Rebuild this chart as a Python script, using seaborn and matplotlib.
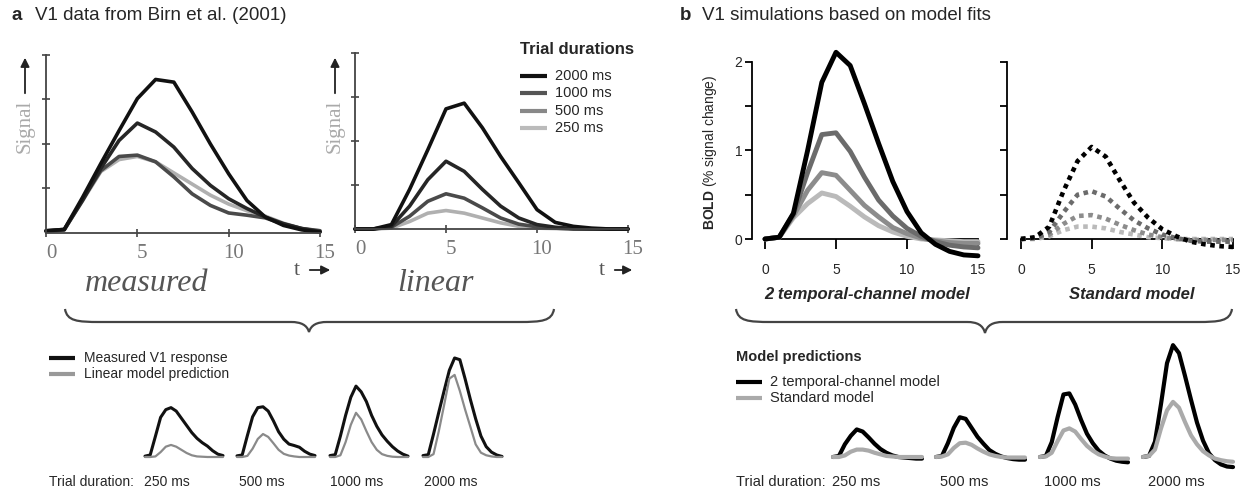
import matplotlib
matplotlib.use("Agg")
import matplotlib.pyplot as plt
import seaborn as sns
import numpy as np
from matplotlib.path import Path
from matplotlib.patches import PathPatch
from matplotlib.transforms import ScaledTranslation

sns.set_style("white")
plt.rcParams['font.family'] = ['Liberation Sans', 'DejaVu Sans']
plt.rcParams['mathtext.fontset'] = 'custom'
plt.rcParams['mathtext.rm'] = 'Liberation Sans'
plt.rcParams['mathtext.bf'] = 'Liberation Sans:bold'

# ---------------- data ----------------
time_s = [0, 1, 2, 3, 4, 5, 6, 7, 8, 9, 10, 11, 12, 13, 14, 15]
durations = ['2000 ms', '1000 ms', '500 ms', '250 ms']
small_labels = ['250 ms', '500 ms', '1000 ms', '2000 ms']

# panel a: measured V1 (Birn et al.)  (arbitrary signal units)
measured_2000 = [0.05, 0.08, 0.80, 1.56, 2.30, 3.02, 3.45, 3.39, 2.72, 2.00, 1.33, 0.73, 0.36, 0.17, 0.07, 0.02]
measured_1000 = [0.05, 0.08, 0.73, 1.45, 2.08, 2.47, 2.27, 1.93, 1.45, 1.07, 0.77, 0.55, 0.36, 0.21, 0.10, 0.03]
measured_500 = [0.04, 0.07, 0.75, 1.40, 1.72, 1.75, 1.60, 1.26, 0.88, 0.62, 0.45, 0.40, 0.34, 0.20, 0.10, 0.05]
measured_250 = [0.03, 0.07, 0.72, 1.38, 1.65, 1.72, 1.60, 1.35, 1.10, 0.85, 0.65, 0.50, 0.38, 0.22, 0.10, 0.05]
# panel a: linear prediction
linear_2000 = [0, 0, 0.10, 0.90, 1.80, 2.73, 2.86, 2.30, 1.65, 1.05, 0.44, 0.15, 0.06, 0.02, 0, 0]
linear_1000 = [0, 0, 0.06, 0.52, 1.12, 1.54, 1.31, 0.90, 0.52, 0.25, 0.10, 0.04, 0.01, 0, 0, 0]
linear_500 = [0, 0, 0.04, 0.29, 0.63, 0.80, 0.70, 0.48, 0.25, 0.11, 0.05, 0.02, 0, 0, 0, 0]
linear_250 = [0, 0, 0.02, 0.17, 0.36, 0.42, 0.36, 0.25, 0.14, 0.06, 0.02, 0.01, 0, 0, 0, 0]

# panel b: simulations (% signal change)
twochan_2000 = [0, 0.02, 0.29, 1.00, 1.77, 2.11, 1.96, 1.53, 1.08, 0.65, 0.31, 0.07, -0.06, -0.14, -0.18, -0.19]
twochan_1000 = [0, 0.02, 0.28, 0.75, 1.18, 1.20, 0.99, 0.70, 0.44, 0.26, 0.12, 0.03, -0.03, -0.07, -0.09, -0.10]
twochan_500 = [0, 0.02, 0.26, 0.55, 0.75, 0.72, 0.55, 0.38, 0.25, 0.13, 0.06, 0.01, -0.02, -0.04, -0.05, -0.05]
twochan_250 = [0, 0.02, 0.24, 0.40, 0.52, 0.48, 0.37, 0.25, 0.15, 0.08, 0.03, 0.00, -0.01, -0.02, -0.03, -0.03]
standard_2000 = [0, 0.02, 0.14, 0.54, 0.88, 1.04, 0.93, 0.66, 0.41, 0.24, 0.11, 0.03, -0.03, -0.06, -0.08, -0.09]
standard_1000 = [0, 0.01, 0.08, 0.30, 0.50, 0.54, 0.48, 0.34, 0.21, 0.12, 0.05, 0.01, -0.02, -0.03, -0.03, -0.03]
standard_500 = [0, 0.01, 0.05, 0.17, 0.26, 0.27, 0.23, 0.16, 0.10, 0.05, 0.02, 0, -0.01, -0.01, -0.01, -0.01]
standard_250 = [0, 0, 0.03, 0.10, 0.14, 0.14, 0.12, 0.08, 0.05, 0.02, 0.01, 0, 0, 0, 0, 0]

measured = [measured_2000, measured_1000, measured_500, measured_250]
linear = [linear_2000, linear_1000, linear_500, linear_250]
twochan = [twochan_2000, twochan_1000, twochan_500, twochan_250]
standard = [standard_2000, standard_1000, standard_500, standard_250]

# ---------------- layout helpers ----------------
W, H = 1244, 490
fig = plt.figure(figsize=(W / 100, H / 100), dpi=100)


def rect_from(xp, xd, yp, yd, xlim, ylim):
    sx = (xp[1] - xp[0]) / (xd[1] - xd[0])
    L = xp[0] + (xlim[0] - xd[0]) * sx
    R = xp[0] + (xlim[1] - xd[0]) * sx
    sy = (yp[1] - yp[0]) / (yd[1] - yd[0])
    T = yp[0] + (ylim[1] - yd[0]) * sy
    B = yp[0] + (ylim[0] - yd[0]) * sy
    return [L / W, 1 - B / H, (R - L) / W, (B - T) / H]


def make_ax(xp, yp, yd, xlim, ylim):
    ax = fig.add_axes(rect_from(xp, (0, 15), yp, yd, xlim, ylim))
    ax.set_xlim(*xlim)
    ax.set_ylim(*ylim)
    ax.patch.set_alpha(0)
    return ax


def draw(ax, y, color, lw, ls='-', z=2):
    sns.lineplot(x=time_s, y=y, ax=ax, color=color, lw=lw, linestyle=ls,
                 legend=False, clip_on=False, zorder=z)
    ax.set_xlabel('')
    ax.set_ylabel('')


a_cols = ['#111111', '#262626', '#4a4a4a', '#b0b0b0']
leg_a_cols = ['#111111', '#555555', '#888888', '#bbbbbb']
b_cols = ['#000000', '#6b6b6b', '#8c8c8c', '#bababa']
serif = 'Liberation Serif'

# ---------------- panel a top ----------------
for xp, yp, data in [((46, 320), (233, 55), measured), ((355, 628), (229, 53), linear)]:
    ax = make_ax(xp, yp, (0, 4), (0, 15), (0, 4))
    for i in [3, 2, 1, 0]:
        draw(ax, data[i], a_cols[i], 2.6)
    sns.despine(ax=ax)
    for s in ['left', 'bottom']:
        ax.spines[s].set_color('#444444')
        ax.spines[s].set_linewidth(1.3)
    ax.set_xticks([0, 5, 10, 15])
    ax.set_yticks([1, 2, 3, 4])
    ax.set_yticklabels([])
    ax.tick_params(bottom=True, left=True, direction='inout', length=6, width=1.2,
                   color='#444444', pad=5, labelsize=15, labelcolor='#777777')
    for lab in ax.get_xticklabels():
        lab.set_fontfamily(serif)
        lab.set_transform(lab.get_transform() + ScaledTranslation(0.05, 0, fig.dpi_scale_trans))

# ---------------- panel b top ----------------
for k, (xp, yp, data, ls, lx) in enumerate([
        ((765, 978), (239, 62), twochan, '-', -0.92),
        ((1021, 1233), (239, 62), standard, (0, (1, 1)), -0.99)]):
    ax = make_ax(xp, yp, (0, 2), (lx, 15.3), (-0.3, 2.05))
    for i in [3, 2, 1, 0]:
        draw(ax, data[i], b_cols[i], 3.5 if k == 0 else 3.3, ls=ls)
    sns.despine(ax=ax)
    ax.spines['bottom'].set_position(('data', 0))
    ax.spines['bottom'].set_bounds(0, 15)
    ax.spines['left'].set_bounds(0, 2)
    for s in ['left', 'bottom']:
        ax.spines[s].set_color('black')
        ax.spines[s].set_linewidth(1.3)
        ax.spines[s].set_zorder(1)
    ax.set_xticks([0, 5, 10, 15])
    ax.set_yticks([0, 0.5, 1, 1.5, 2])
    ax.set_yticklabels(['0', '', '1', '', '2'] if k == 0 else [])
    ax.tick_params(axis='x', bottom=True, direction='out', length=7, width=1.3,
                   color='black', pad=10, labelsize=10)
    ax.tick_params(axis='y', left=True, direction='out', length=5, width=1.3,
                   color='black', pad=2, labelsize=10)

# ---------------- small panels ----------------
a_small_x = [(145, 223), (237, 315), (330, 408), (423, 502)]
b_small_x = [(833, 922), (936, 1025), (1040, 1128), (1143, 1233)]
for j in range(4):
    i = 3 - j  # 250 ms first
    ax = make_ax(a_small_x[j], (457, 457 - 28.7), (0, 1), (0, 15), (-0.2, 3.7))
    draw(ax, measured[i], '#111111', 2.2, z=2)
    draw(ax, linear[i], '#8a8a8a', 1.6, z=3)
    ax.axis('off')
    ax = make_ax(b_small_x[j], (457, 457 - 53), (0, 1), (0, 15), (-0.3, 2.3))
    draw(ax, twochan[i], '#000000', 3.0, z=2)
    draw(ax, standard[i], '#aaaaaa', 3.0, z=3)
    ax.axis('off')

# ---------------- overlay: texts and decorations ----------------
ov = fig.add_axes([0, 0, 1, 1], zorder=10)
ov.set_xlim(0, W)
ov.set_ylim(H, 0)
ov.axis('off')

# titles
ov.text(11, 16, 'a', fontsize=13.5, fontweight='bold', va='center')
ov.text(35, 16, 'V1 data from Birn et al. (2001)', fontsize=13.5, va='center')
ov.text(680, 16, 'b', fontsize=13.5, fontweight='bold', va='center')
ov.text(702, 16, 'V1 simulations based on model fits', fontsize=13.5, va='center')

# "Signal" labels with arrows, t arrows, panel names
for sx, ty, tx0, tx1, name, nx in [(25, 270, 297, 333, 'measured', 147),
                                    (335, 270, 602, 635, 'linear', 436)]:
    ov.text(sx, 126, 'Signal', rotation=90, fontsize=15, family=serif,
            color='#aaaaaa', ha='center', va='center')
    ov.annotate('', xy=(sx, 55), xytext=(sx, 96),
                arrowprops=dict(arrowstyle='-|>', color='#222222', lw=1.3, mutation_scale=13))
    ov.text(tx0, ty, 't', fontsize=16, family=serif, color='#555555', ha='center', va='center')
    ov.annotate('', xy=(tx1, ty), xytext=(tx0 + 10, ty),
                arrowprops=dict(arrowstyle='-|>', color='#222222', lw=1.3, mutation_scale=13))
    ov.text(nx, 283, name, fontsize=23, family=serif, style='italic',
            color='#555555', ha='center', va='center')

# legend: trial durations
ov.text(520, 49, 'Trial durations', fontsize=12, fontweight='bold', va='center')
for i, (lab, yy) in enumerate(zip(durations, [76, 93, 111, 128])):
    ov.plot([520, 547], [yy, yy], color=leg_a_cols[i], lw=3, solid_capstyle='butt')
    ov.text(555, yy, lab, fontsize=10.5, va='center')

# panel b axis labels
ov.text(710, 152, r'$\mathbf{BOLD}$ (% signal change)', rotation=90, fontsize=10,
        ha='center', va='center')
ov.text(867, 294, '2 temporal-channel model', fontsize=12, fontweight='bold',
        style='italic', ha='center', va='center')
ov.text(1132, 294, 'Standard model', fontsize=12, fontweight='bold',
        style='italic', ha='center', va='center')


# braces
def brace(x0, x1, ytop, ymid, ybot, tip):
    verts = [(x0, ytop), (x0 + 2, ymid - 1), (x0 + 12, ymid), (x0 + 35, ymid),
             (tip - 18, ymid),
             (tip - 8, ymid), (tip - 2, ymid + 3), (tip, ybot),
             (tip + 2, ymid + 3), (tip + 8, ymid), (tip + 18, ymid),
             (x1 - 35, ymid),
             (x1 - 12, ymid), (x1 - 2, ymid - 1), (x1, ytop)]
    codes = [Path.MOVETO, Path.CURVE4, Path.CURVE4, Path.CURVE4,
             Path.LINETO,
             Path.CURVE4, Path.CURVE4, Path.CURVE4,
             Path.CURVE4, Path.CURVE4, Path.CURVE4,
             Path.LINETO,
             Path.CURVE4, Path.CURVE4, Path.CURVE4]
    ov.add_patch(PathPatch(Path(verts, codes), fill=False, lw=1.6, color='#444444'))


brace(65, 554, 309, 322, 332, 309)
brace(736, 1232, 309, 322, 333, 985)

# bottom legends
ov.plot([49, 75], [358, 358], color='#111111', lw=3, solid_capstyle='butt')
ov.plot([49, 75], [374, 374], color='#999999', lw=3, solid_capstyle='butt')
ov.text(84, 358, 'Measured V1 response', fontsize=10, va='center')
ov.text(84, 374, 'Linear model prediction', fontsize=10, va='center')

ov.text(736, 357, 'Model predictions', fontsize=10.5, fontweight='bold', va='center')
ov.plot([736, 762], [382, 382], color='#000000', lw=3, solid_capstyle='butt')
ov.plot([736, 762], [398, 398], color='#aaaaaa', lw=3, solid_capstyle='butt')
ov.text(770, 382, '2 temporal-channel model', fontsize=10.5, va='center')
ov.text(770, 398, 'Standard model', fontsize=10.5, va='center')

# trial duration labels
ov.text(49, 482, 'Trial duration:', fontsize=10, va='center')
for lab, xx in zip(small_labels, [144, 239, 330, 424]):
    ov.text(xx, 482, lab, fontsize=10, va='center')
ov.text(736, 482, 'Trial duration:', fontsize=10.5, va='center')
for lab, xx in zip(small_labels, [832, 940, 1044, 1148]):
    ov.text(xx, 482, lab, fontsize=10.5, va='center')

fig.savefig('out.png', dpi=100)
